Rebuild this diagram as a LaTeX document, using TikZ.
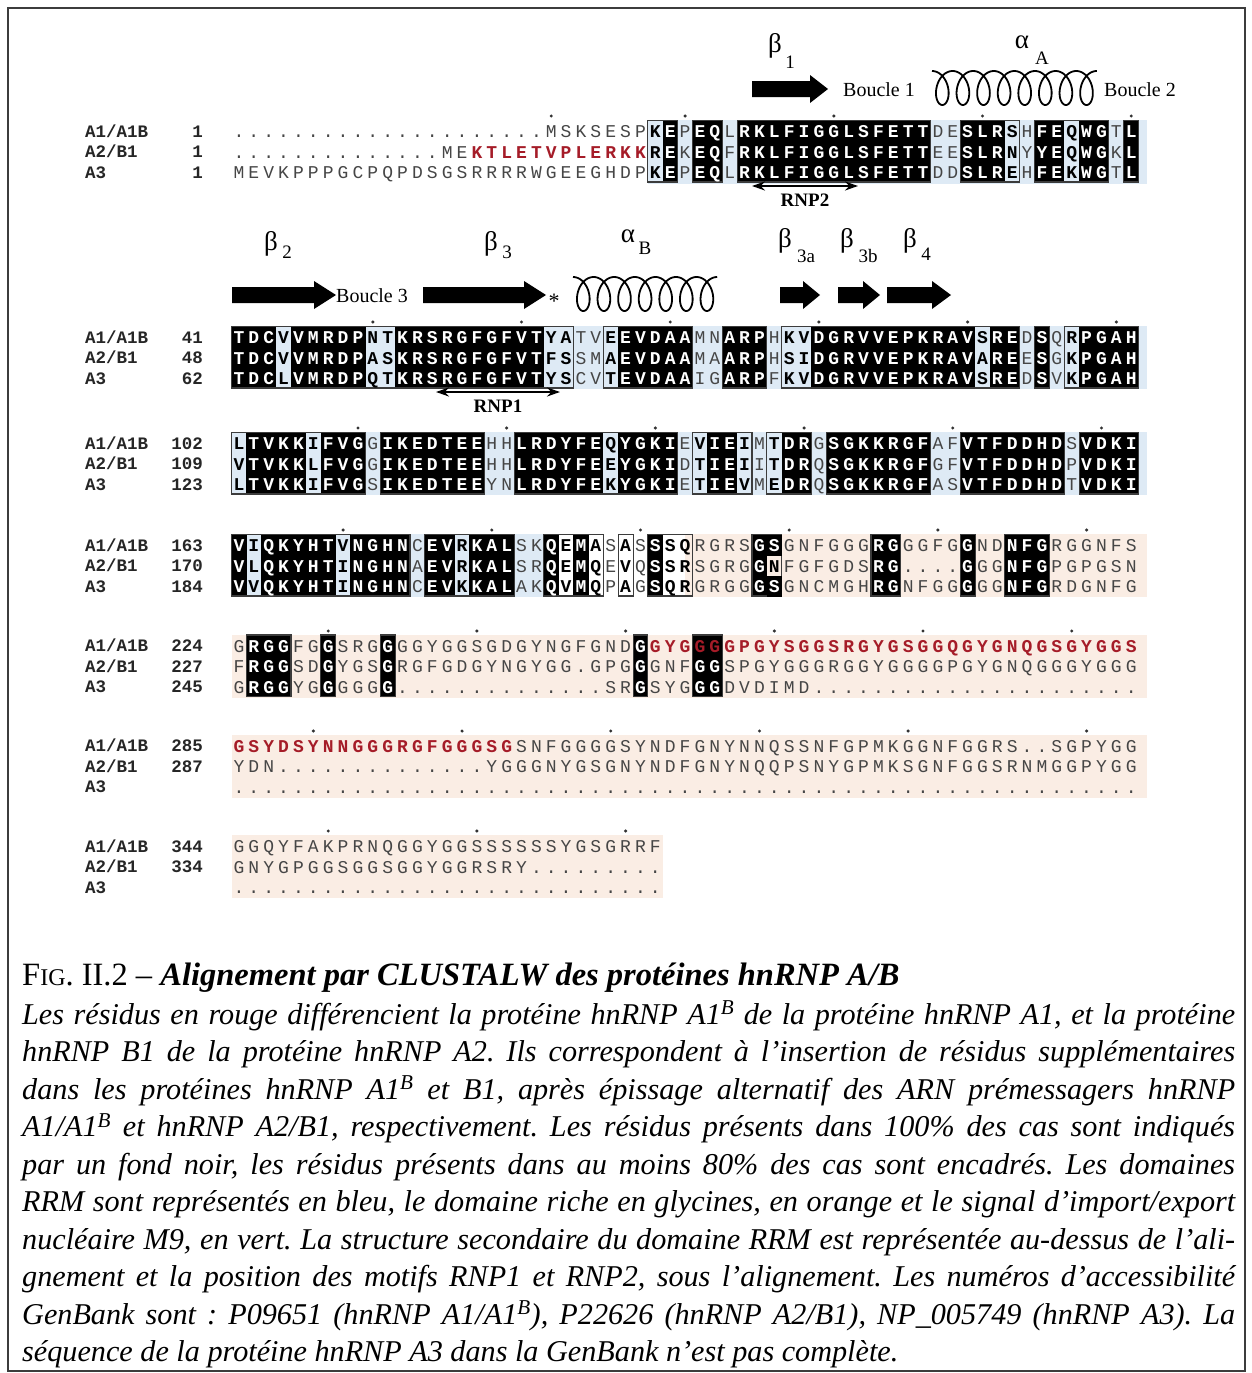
\documentclass[tikz,border=0pt]{standalone}
\usepackage{fontspec}
\setmainfont{Liberation Serif}
\newfontfamily\seqfont{Liberation Mono}
\usetikzlibrary{arrows.meta}
\definecolor{bgblue}{RGB}{222,234,245}
\definecolor{bgorange}{RGB}{250,237,228}
\definecolor{seqred}{RGB}{165,28,40}
\definecolor{seqgray}{RGB}{70,70,70}
\definecolor{framegray}{RGB}{60,60,60}
\tikzset{
  res/.style={inner sep=0pt,anchor=base},
  resn/.style={res,font=\seqfont\fontsize{18}{18}\selectfont,text=seqgray},
  resb/.style={res,font=\seqfont\bfseries\fontsize{18}{18}\selectfont,text=white},
  ress/.style={res,font=\seqfont\bfseries\fontsize{18}{18}\selectfont,text=black},
  resred/.style={font=\seqfont\bfseries\fontsize{18}{18}\selectfont,text=seqred},
  lab/.style={inner sep=0pt,font=\seqfont\bfseries\fontsize{17.5}{17.5}\selectfont,text=black!85},
  greek/.style={inner sep=0pt,font=\fontsize{27}{27}\selectfont},
  gsub/.style={inner sep=0pt,font=\fontsize{19}{19}\selectfont},
  loop/.style={inner sep=0pt,anchor=base west,font=\fontsize{20}{20}\selectfont},
  rnp/.style={inner sep=0pt,font=\bfseries\fontsize{19}{19}\selectfont},
  capline/.style={anchor=base west,inner sep=0pt,font=\fontsize{30.2}{30.2}\selectfont\itshape},
  helixline/.style={line width=1.8,line join=round},
  rnparrow/.style={line width=2,{Stealth[length=13,width=9]}-{Stealth[length=13,width=9]}}
}
\newcommand\sqputchar[4]{\node[#3] at ({239+(#1-1)*14.87},#2) {\uppercase{#4}};}
% black background for one single cell: col, baseline y
\newcommand\sqcellbg[2]{\fill[black] ({239+(#1-1)*14.87-7.6},{#2-17}) rectangle ({239+(#1-1)*14.87+7.6},{#2+4});}
\newcommand\sqblack[3]{\fill[black] ({239+(#1-1)*14.87-7.6},#2) rectangle ({239+(#1-1)*14.87+7.6},#3);}
\newcommand\sqframe[4]{\draw[framegray,line width=1.1] ({239+(#1-1)*14.87-7.435},#3) rectangle ({239+(#2-1)*14.87+7.435},#4);}
\newcommand\ssarrow[4]{\fill ({#1},{#3-8}) -- ({#2-#4},{#3-8}) -- ({#2-#4},{#3-14}) -- ({#2},{#3}) -- ({#2-#4},{#3+14}) -- ({#2-#4},{#3+8}) -- ({#1},{#3+8}) -- cycle;}
% helix: #1 x start, #2 y centre, #3 end angle (180+360*turns)
\newcommand\helixdraw[3]{\draw[helixline] plot[smooth,domain=180:#3,samples=440] ({#1+(\x-180)/360*20.6-11*sin(\x)},{#2+17*cos(\x)});}
\ExplSyntaxOn
\tl_new:N \l_sq_codes_tl
\tl_new:N \l_sq_row_tl
\tl_new:N \l_sq_style_tl
\int_new:N \l_sq_col_int
\int_new:N \l_sq_start_int
\int_new:N \l_sq_len_int
\bool_new:N \l_sq_cell_bool
\NewDocumentCommand \sqcodes { m }
  { \tl_set:Nn \l_sq_codes_tl {#1} \tl_remove_all:Nn \l_sq_codes_tl {~} }
\NewDocumentCommand \sqrow { m m }
  {
    \tl_set:Nn \l_sq_row_tl {#2}
    \tl_remove_all:Nn \l_sq_row_tl {~}
    \int_zero:N \l_sq_col_int
    \bool_set_false:N \l_sq_cell_bool
    \tl_map_inline:Nn \l_sq_row_tl
      {
        \str_if_eq:nnTF {##1} {!}
          { \bool_set_true:N \l_sq_cell_bool }
          {
            \int_incr:N \l_sq_col_int
            \str_if_eq:eeTF { \tl_item:Nn \l_sq_codes_tl { \l_sq_col_int } } { b }
              { \tl_set:Nn \l_sq_style_tl { resb } }
              {
                \str_if_eq:eeTF { \tl_item:Nn \l_sq_codes_tl { \l_sq_col_int } } { s }
                  { \tl_set:Nn \l_sq_style_tl { ress } }
                  { \tl_set:Nn \l_sq_style_tl { resn } }
              }
            \bool_if:NT \l_sq_cell_bool
              {
                \tl_set:Nn \l_sq_style_tl { resb }
                \use:x { \exp_not:N \sqcellbg { \int_use:N \l_sq_col_int } { \exp_not:n {#1} } }
                \bool_set_false:N \l_sq_cell_bool
              }
            \int_compare:nNnT { `##1 } > { 90 }
              { \tl_put_right:Nn \l_sq_style_tl { ,resred } }
            \use:x { \exp_not:N \sqputchar { \int_use:N \l_sq_col_int } { \exp_not:n {#1} } { \l_sq_style_tl } { \exp_not:n {##1} } }
          }
      }
  }
\NewDocumentCommand \sqboxes { m m }
  {
    \int_set:Nn \l_sq_len_int { \tl_count:N \l_sq_codes_tl }
    \int_zero:N \l_sq_start_int
    \int_step_inline:nn { \l_sq_len_int }
      {
        \str_if_eq:eeT { \tl_item:Nn \l_sq_codes_tl {##1} } { b }
          { \sqblack {##1} {#1} {#2} }
        \str_if_eq:eeTF { \tl_item:Nn \l_sq_codes_tl {##1} } { n }
          {
            \int_compare:nNnT { \l_sq_start_int } > { 0 }
              {
                \use:x { \exp_not:N \sqframe { \int_use:N \l_sq_start_int } { \int_eval:n { ##1 - 1 } } { \exp_not:n {#1} } { \exp_not:n {#2} } }
                \int_zero:N \l_sq_start_int
              }
          }
          {
            \int_compare:nNnT { \l_sq_start_int } = { 0 }
              { \int_set:Nn \l_sq_start_int {##1} }
          }
      }
    \int_compare:nNnT { \l_sq_start_int } > { 0 }
      { \use:x { \exp_not:N \sqframe { \int_use:N \l_sq_start_int } { \int_use:N \l_sq_len_int } { \exp_not:n {#1} } { \exp_not:n {#2} } } }
  }
\ExplSyntaxOff
% #1 y0 (center of first row), #2-#4 numbers, #5 codes, #6-#8 rows
\newcommand\sqblock[8]{%
  \sqcodes{#5}%
  \sqboxes{#1-10.5}{#1+51}%
  \node[lab,anchor=base west] at (85,#1+6) {A1/A1B};
  \node[lab,anchor=base west] at (85,#1+26.5) {A2/B1};
  \node[lab,anchor=base west] at (85,#1+47) {A3};
  \node[lab,anchor=base east] at (203,#1+6) {#2};
  \node[lab,anchor=base east] at (203,#1+26.5) {#3};
  \node[lab,anchor=base east] at (203,#1+47) {#4};
  \sqrow{#1+6.5}{#6}%
  \sqrow{#1+27}{#7}%
  \sqrow{#1+47.5}{#8}%
}
\newcommand\sqdots[2]{\foreach \c in {#2} {\fill[black!80] ({239+(\c-1)*14.87},#1) circle (1.7);}}

\begin{document}
\frenchspacing
\begin{tikzpicture}[x=1pt,y=-1pt]
\useasboundingbox (0,0) rectangle (1252,1373);
\fill[white] (0,0) rectangle (1252,1373);
\draw[framegray,line width=1.3] (8,8) rectangle (1245,1371);

% ---------- shaded domains
\fill[bgblue] (648,120) rectangle (1147,183.5);
\fill[bgblue] (231.5,326) rectangle (1147,389);
\fill[bgblue] (231.5,432) rectangle (1147,495);
\fill[bgblue] (231.5,534) rectangle (559,597);
\fill[bgorange] (685,534) rectangle (1147,597);
\fill[bgorange] (231.5,634.5) rectangle (1147,697.5);
\fill[bgorange] (231.5,734.5) rectangle (1147,797.5);
\fill[bgorange] (231.5,835) rectangle (663,898);

% ---------- secondary structure, block 1
\node[greek] (b1) at (775,46) {β};
\node[gsub] (b1s) at (790,62) {1};
\ssarrow{752}{828}{89}{18}
\node[loop] (bc1) at (843,96) {Boucle 1};
\helixdraw{932}{88}{3060}
\node[greek] (aA) at (1022,42) {α};
\node[gsub] (aAs) at (1042,58) {A};
\node[loop] (bc2) at (1104,96) {Boucle 2};

% ---------- secondary structure, block 2
\node[greek] (b2) at (271,244) {β};
\node[gsub] (b2s) at (287,252) {2};
\ssarrow{232}{336}{295}{22}
\node[loop] (bc3) at (336,302) {Boucle 3};
\node[greek] (b3) at (491,244) {β};
\node[gsub] (b3s) at (507,252) {3};
\ssarrow{423}{546}{295}{22}
\node[inner sep=0pt,font=\fontsize{22}{22}\selectfont] (star) at (554,301) {*};
\node[greek] (aB) at (628,236) {α};
\node[gsub] (aBs) at (645,248) {B};
\helixdraw{573}{294}{2700}
\node[greek] (b3a) at (785,241) {β};
\node[gsub] (b3as) at (806,256) {3a};
\ssarrow{780}{820}{295}{17}
\node[greek] (b3b) at (847,241) {β};
\node[gsub] (b3bs) at (868,256) {3b};
\ssarrow{838}{880}{295}{17}
\node[greek] (b4) at (910,241) {β};
\node[gsub] (b4s) at (926,254) {4};
\ssarrow{887}{951}{295}{19}

% ---------- alignment blocks
\sqdots{116}{22,31,41,51,61}
\sqblock{131}{1}{1}{1}
 {nnnnnnnnnn nnnnnnnnnn nnnnnnnnsb nbbnbbbbbb bbbbbbbnnb bbsnbbsbbn b}
 {.......... .......... .MSKSESPKE PEQLRKLFIG GLSFETTDES LRSHFEQWGT L}
 {.......... ....MEktle tvplerkkRE KEQFRKLFIG GLSFETTEES LRNYYEQWGK L}
 {MEVKPPPGCP QPDSGSRRRR WGEEGHDPKE PEQLRKLFIG GLSFETTDDS LREHFEKWGT L}
\coordinate (rnp2a) at (752,186);
\coordinate (rnp2b) at (858,186);
\draw[rnparrow] (rnp2a) -- (rnp2b);
\node[rnp] (rnp2) at (805,200) {RNP2};

\sqdots{322}{10,20,30,40,50,60}
\sqblock{337}{41}{48}{62}
 {bbbsbbbbbs sbbbbbbbbb bssnnsbbbb bnnbbbnssb bbbbbbbbbb sbbnbnsbbb b}
 {TDCVVMRDPN TKRSRGFGFV TYATVEEVDA AMNARPHKVD GRVVEPKRAV SREDSQRPGA H}
 {TDCVVMRDPA SKRSRGFGFV TFSSMAEVDA AMAARPHSID GRVVEPKRAV AREESGKPGA H}
 {TDCLVMRDPQ TKRSRGFGFV TYSCVTEVDA AIGARPFKVD GRVVEPKRAV SREDSVKPGA H}
\coordinate (rnp1a) at (436,392);
\coordinate (rnp1b) at (560,392);
\draw[rnparrow] (rnp1a) -- (rnp1b);
\node[rnp] (rnp1) at (498,406) {RNP1};

\sqdots{428}{9,19,29,39,49,59}
\sqblock{443}{102}{109}{123}
 {sbbbbsbbbn bbbbbbbnnb bbbbbsbbbb nsbbsnsbbn bbbbbbbnnb bbbbbbnbbb b}
 {LTVKKIFVGG IKEDTEEHHL RDYFEQYGKI EVIEIMTDRG SGKKRGFAFV TFDDHDSVDK I}
 {VTVKKLFVGG IKEDTEEHHL RDYFEEYGKI DTIEIITDRQ SGKKRGFGFV TFDDHDPVDK I}
 {LTVKKIFVGS IKEDTEEYNL RDYFEKYGKI ETIEVMEDRQ SGKKRGFASV TFDDHDTVDK I}

\sqdots{530}{8,18,28,38,48,58}
\sqblock{545}{163}{170}{184}
 {bsbbbbbsbb bbnbbsbbbn nbsbsnsnbs snnnnbsnnn nnnbbnnnnb nnbbbnnnnn n}
 {VIQKYHTVNG HNCEVRKALS KQEMASASSS QRGRSG!SGNF GGGRGGGFGG NDNFGRGGNF S}
 {VLQKYHTING HNAEVRKALS RQEMQEVQSS RSGRGGNFGF GDSRG....G GGNFGPGPGS N}
 {VVQKYHTING HNCEVKKALA KQVMQPAGSQ RGRGGG!SGNC MGHRGNFGGG GGNFGRDGNF G}

\sqdots{631}{7,17,27,37,47,57}
\sqblock{645.5}{224}{227}{245}
 {nbbbnnbnnn bnnnnnnnnn nnnnnnnbnn nbbnnnnnnn nnnnnnnnnn nnnnnnnnnn n}
 {GRGGFGGSRG GGGYGGSGDG YNGFGNDGgy ggggpgysgg srgygsggqg ygnqgsgygg s}
 {FRGGSDGYGS GRGFGDGYNG YGG.GPGGGN FGGSPGYGGG RGGYGGGGPG YGNQGGGYGG G}
 {GRGGYGGGGG G......... .....SRGSY GGGDVDIMD. .......... .......... .}

\sqdots{731}{6,16,26,36,46,58}
\sqblock{745.5}{285}{287}{}
 {n}
 {gsydsynngg grgfgggsgS NFGGGGSYND FGNYNNQSSN FGPMKGGNFG GRS..SGPYG G}
 {YDN....... .......YGG GNYGSGNYND FGNYNQQPSN YGPMKSGNFG GSRNMGGPYG G}
 {.......... .......... .......... .......... .......... .......... .}

\sqdots{831}{7,17,27}
\sqblock{846}{344}{334}{}
 {n}
 {GGQYFAKPRN QGGYGGSSSS SSYGSGRRF}
 {GNYGPGGSGG SGGYGGRSRY .........}
 {.......... .......... .........}

% ---------- caption
\node[capline,font=\fontsize{32.5}{32.5}\selectfont] (cap1) at (22,985) {\upshape F{\fontsize{24}{24}\selectfont IG}. II.2 -- \bfseries\itshape Alignement par CLUSTALW des protéines hnRNP A/B};
\node[capline] (cap2) at (22,1024) {\makebox[1213pt][s]{Les résidus en rouge différencient la protéine hnRNP A1\textsuperscript{B} de la protéine hnRNP A1, et la protéine}};
\node[capline] (cap3) at (22,1061.5) {\makebox[1213pt][s]{hnRNP B1 de la protéine hnRNP A2. Ils correspondent à l’insertion de résidus supplémentaires}};
\node[capline] (cap4) at (22,1099) {\makebox[1213pt][s]{dans les protéines hnRNP A1\textsuperscript{B} et B1, après épissage alternatif des ARN prémessagers hnRNP}};
\node[capline] (cap5) at (22,1136.5) {\makebox[1213pt][s]{A1/A1\textsuperscript{B} et hnRNP A2/B1, respectivement. Les résidus présents dans 100\% des cas sont indiqués}};
\node[capline] (cap6) at (22,1174) {\makebox[1213pt][s]{par un fond noir, les résidus présents dans au moins 80\% des cas sont encadrés. Les domaines}};
\node[capline] (cap7) at (22,1211.5) {\makebox[1213pt][s]{RRM sont représentés en bleu, le domaine riche en glycines, en orange et le signal d’import/export}};
\node[capline] (cap8) at (22,1249) {\makebox[1213pt][s]{nucléaire M9, en vert. La structure secondaire du domaine RRM est représentée au-dessus de l’ali-}};
\node[capline] (cap9) at (22,1286.5) {\makebox[1213pt][s]{gnement et la position des motifs RNP1 et RNP2, sous l’alignement. Les numéros d’accessibilité}};
\node[capline] (cap10) at (22,1324) {\makebox[1213pt][s]{GenBank sont : P09651 (hnRNP A1/A1\textsuperscript{B}), P22626 (hnRNP A2/B1), NP\_005749 (hnRNP A3). La}};
\node[capline] (cap11) at (22,1361.5) {séquence de la protéine hnRNP A3 dans la GenBank n’est pas complète.};
\end{tikzpicture}
\end{document}
